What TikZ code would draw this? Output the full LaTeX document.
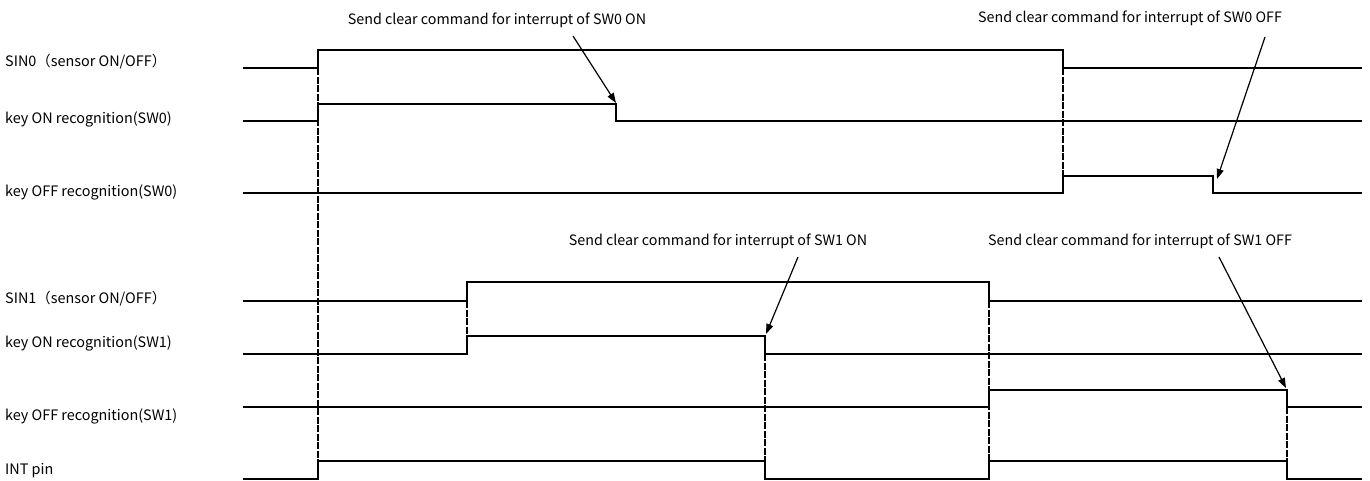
\documentclass[tikz,border=0pt]{standalone}
\usepackage{fontspec}
\setmainfont{Noto Sans CJK JP}
\usetikzlibrary{arrows.meta}
\tikzset{
  sig/.style={line width=1.8pt, line join=miter},
  guide/.style={line width=1.4pt, dash pattern=on 7pt off 1.5pt},
  callout/.style={line width=1.2pt, -{Triangle[length=10pt,width=7pt]}},
  lbl/.style={anchor=west, inner sep=0pt, font=\fontsize{14.4}{16}\selectfont},
  note/.style={inner sep=0pt, font=\fontsize{14.3}{16}\selectfont}
}
\begin{document}
\begin{tikzpicture}[x=1pt,y=-1pt]
\useasboundingbox (0,0) rectangle (1370,480);
% labels
\node[lbl] (l1) at (5,62) {SIN0（sensor ON/OFF）};
\node[lbl] (l2) at (5,119) {key ON recognition(SW0)};
\node[lbl] (l3) at (5,192) {key OFF recognition(SW0)};
\node[lbl] (l4) at (5,299) {SIN1（sensor ON/OFF）};
\node[lbl] (l5) at (5,343) {key ON recognition(SW1)};
\node[lbl] (l6) at (5,416) {key OFF recognition(SW1)};
\node[lbl] (l7) at (5,471) {INT pin};
% guides
\draw[guide] (318,68) -- (318,461);
\draw[guide] (1063,68) -- (1063,176);
\draw[guide] (467,301) -- (467,336);
\draw[guide] (765,354) -- (765,461);
\draw[guide] (989,301) -- (989,461);
\draw[guide] (1287,407) -- (1287,461);
% signals
\draw[sig] (243,68) -- (318,68) -- (318,50) -- (1063,50) -- (1063,68) -- (1362,68);
\draw[sig] (243,121) -- (318,121) -- (318,104) -- (616,104) -- (616,121) -- (1362,121);
\draw[sig] (243,193) -- (1063,193) -- (1063,176) -- (1213,176) -- (1213,193) -- (1362,193);
\draw[sig] (243,301) -- (467,301) -- (467,282) -- (989,282) -- (989,301) -- (1362,301);
\draw[sig] (243,354) -- (467,354) -- (467,336) -- (765,336) -- (765,354) -- (1362,354);
\draw[sig] (243,407) -- (989,407) -- (989,390) -- (1287,390) -- (1287,407) -- (1362,407);
\draw[sig] (243,479) -- (318,479) -- (318,461) -- (765,461) -- (765,479) -- (989,479) -- (989,461) -- (1287,461) -- (1287,479) -- (1362,479);
% notes
\node[note] (n1) at (497,20) {Send clear command for interrupt of SW0 ON};
\node[note] (n2) at (1130,18) {Send clear command for interrupt of SW0 OFF};
\node[note] (n3) at (718,241) {Send clear command for interrupt of SW1 ON};
\node[note] (n4) at (1140,241) {Send clear command for interrupt of SW1 OFF};
\coordinate (s1) at (573,36);  \coordinate (e1) at (616,103);
\coordinate (s2) at (1265,37); \coordinate (e2) at (1217,179);
\coordinate (s3) at (798,257); \coordinate (e3) at (766,334);
\coordinate (s4) at (1219,257); \coordinate (e4) at (1286,388);
\draw[callout] (s1) -- (e1);
\draw[callout] (s2) -- (e2);
\draw[callout] (s3) -- (e3);
\draw[callout] (s4) -- (e4);
\end{tikzpicture}
\end{document}
